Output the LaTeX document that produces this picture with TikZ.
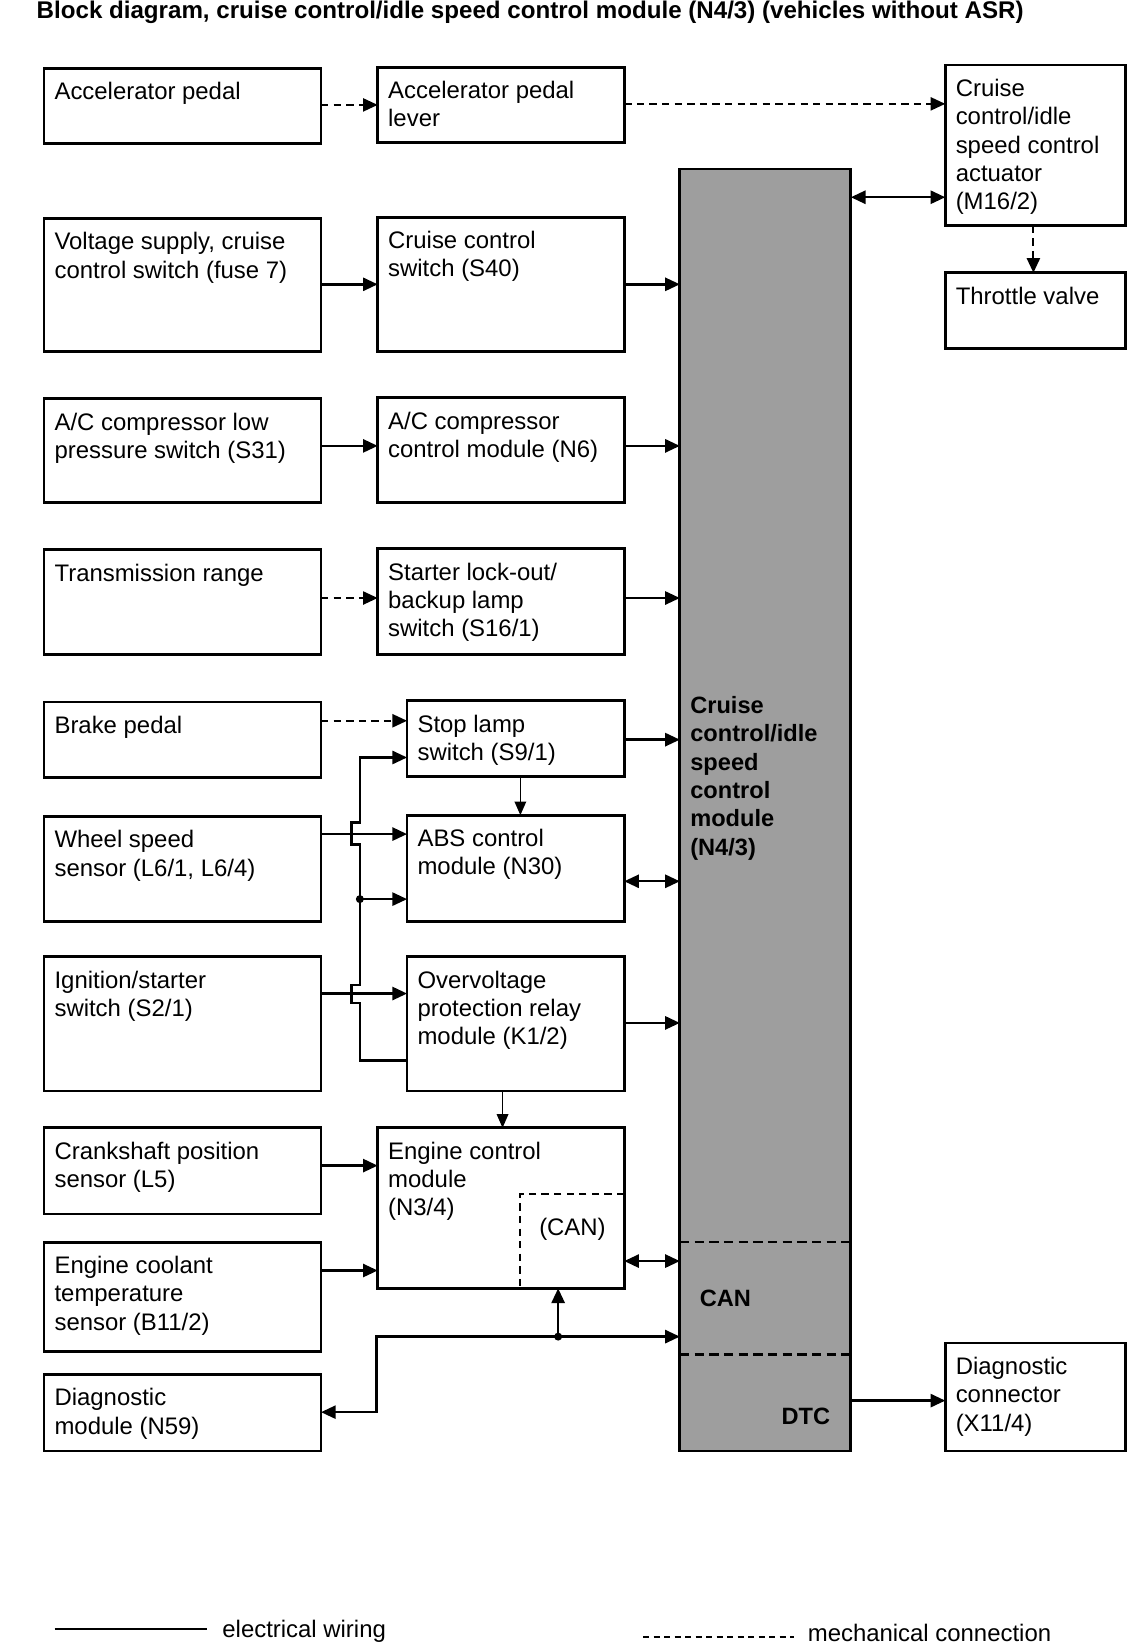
\documentclass[tikz,border=0pt]{standalone}
\usepackage{fontspec}
\setmainfont{Liberation Sans}
\usetikzlibrary{arrows.meta,calc}
\tikzset{
  box/.style={draw, line width=2.6pt, anchor=north west, inner sep=0pt, outer sep=0pt},
  lbl/.style={anchor=north west, inner sep=0pt, outer sep=0pt, align=left, font=\fontsize{22.8}{27}\selectfont},
  blbl/.style={lbl, font=\bfseries\fontsize{22.5}{27}\selectfont},
  tip/.tip={Triangle[length=14pt,width=12.5pt]},
  arr/.style={line width=2.3pt, -tip},
  both/.style={line width=2.3pt, tip-tip},
  thinarr/.style={line width=1.4pt, -{Triangle[length=13pt,width=11pt]}},
  mech/.style={line width=2pt, dash pattern=on 7pt off 5pt, -tip},
  dotj/.style={fill=black},
}
\newcommand\blk[6]{%
  \node[box, minimum width=#4pt, minimum height=#5pt] (#1) at (#2,#3) {};
  \node[lbl] (#1-t) at ($(#1.north west)+(10,11.1)$) {\strut #6};
}
\begin{document}
\begin{tikzpicture}[x=1pt,y=-1pt]
\useasboundingbox (0,0) rectangle (1083,1567);
\fill[white] (0,0) rectangle (1083,1567);

% title
\node[blbl, anchor=base west, font=\bfseries\fontsize{23}{27}\selectfont] (title) at (35,18) {Block diagram, cruise control/idle speed control module (N4/3) (vehicles without ASR)};

% left column
\blk{acc}{42}{65}{264}{72}{Accelerator pedal}
\blk{volt}{42}{208}{264}{127}{Voltage supply, cruise\\control switch (fuse 7)}
\blk{acl}{42}{380}{264}{99}{A/C compressor low\\pressure switch (S31)}
\blk{trans}{42}{524}{264}{100}{Transmission range}
\blk{brake}{42}{669}{264}{72}{Brake pedal}
\blk{wheel}{42}{778}{264}{100}{Wheel speed\\sensor (L6/1, L6/4)}
\blk{ign}{42}{912}{264}{128}{Ignition/starter\\switch (S2/1)}
\blk{crank}{42}{1075}{264}{82}{Crankshaft position\\sensor (L5)}
\blk{cool}{42}{1184}{264}{104}{Engine coolant\\temperature\\sensor (B11/2)}
\blk{diagm}{42}{1310}{264}{73}{Diagnostic\\module (N59)}

% middle column
\blk{lever}{360}{64}{235}{72}{Accelerator pedal\\lever}
\blk{ccs}{360}{207}{235}{128}{Cruise control\\switch (S40)}
\blk{acm}{360}{379}{235}{100}{A/C compressor\\control module (N6)}
\blk{slo}{360}{523}{235}{101}{Starter lock-out/\\backup lamp\\switch (S16/1)}
\blk{stop}{388}{668}{207}{72}{Stop lamp\\switch (S9/1)}
\blk{abs}{388}{777}{207}{101}{ABS control\\module (N30)}
\blk{ovp}{388}{912}{207}{128}{Overvoltage\\protection relay\\module (K1/2)}
\blk{ecm}{360}{1075}{235}{153}{Engine control\\module\\(N3/4)}
\draw[line width=1.8pt, dash pattern=on 7pt off 5pt] (ecm.east|-0,1138) -- (496,1138) -- (496,1228);
\node[lbl] (ecmcan) at (514,1159.1) {\strut (CAN)};

% central module
\node[box, fill=black!38, minimum width=163pt, minimum height=1222pt] (mod) at (648,161) {};
\draw[line width=2.2pt, dash pattern=on 9pt off 5pt] (mod.west|-0,1184) -- (mod.east|-0,1184);
\draw[line width=2.2pt, dash pattern=on 9pt off 5pt] (mod.west|-0,1291) -- (mod.east|-0,1291);
\node[blbl] (mod-t) at (658,661.1) {\strut Cruise\\control/idle\\speed\\control\\module\\(N4/3)};
\node[blbl] (mod-can) at (667,1226.1) {\strut CAN};
\node[blbl] (mod-dtc) at (745,1339.1) {\strut DTC};

% right column
\blk{act}{901}{62}{172}{153}{Cruise\\control/idle\\speed control\\actuator\\(M16/2)}
\blk{thr}{901}{260}{172}{72}{Throttle valve}
\blk{dconn}{901}{1280}{172}{103}{Diagnostic\\connector\\(X11/4)}

% connectors
\draw[mech] (acc.east|-0,100) -- (lever.west|-0,100);
\draw[mech] (lever.east|-0,99) -- (act.west|-0,99);
\draw[both] (mod.east|-0,188) -- (act.west|-0,188);
\draw[mech] (act.south-|985,0) -- (thr.north-|985,0);

\draw[arr] (volt.east|-0,271) -- (ccs.west|-0,271);
\draw[arr] (ccs.east|-0,271) -- (mod.west|-0,271);
\draw[arr] (acl.east|-0,425) -- (acm.west|-0,425);
\draw[arr] (acm.east|-0,425) -- (mod.west|-0,425);
\draw[mech] (trans.east|-0,570) -- (slo.west|-0,570);
\draw[arr] (slo.east|-0,570) -- (mod.west|-0,570);

\draw[mech] (brake.east|-0,687) -- (stop.west|-0,687);
\draw[arr] (stop.east|-0,705) -- (mod.west|-0,705);
\draw[thinarr] (stop.south-|496,0) -- (abs.north-|496,0);
\draw[arr] (wheel.east|-0,795) -- (abs.west|-0,795);
\draw[arr] (ovp.west|-0,1011) -- (343,1011) -- (343,956) -- (335,956) -- (335,939) -- (343,939)
   -- (343,805) -- (335,805) -- (335,784) -- (343,784) -- (343,722) -- (stop.west|-0,722);
\coordinate (j1) at (343,857);
\fill[dotj] (j1) circle (3.8pt);
\draw[arr] (j1) -- (abs.west|-j1);
\draw[arr] (ign.east|-0,947) -- (ovp.west|-0,947);
\draw[both] (abs.east|-0,840) -- (mod.west|-0,840);
\draw[arr] (ovp.east|-0,975) -- (mod.west|-0,975);
\draw[thinarr] (ovp.south-|479,0) -- (ecm.north-|479,0);

\draw[arr] (crank.east|-0,1111) -- (ecm.west|-0,1111);
\draw[arr] (cool.east|-0,1211) -- (ecm.west|-0,1211);
\draw[both] (ecm.east|-0,1202) -- (mod.west|-0,1202);
\draw[both] (diagm.east|-0,1346) -- (359,1346) -- (359,1274) -- (mod.west|-0,1274);
\coordinate (j2) at (532,1274);
\fill[dotj] (j2) circle (3.8pt);
\draw[arr] (j2) -- (ecm.south-|j2);
\draw[arr] (mod.east|-0,1335) -- (dconn.west|-0,1335);

% legend
\coordinate (le1) at (52,1553);
\coordinate (le2) at (197,1553);
\draw[line width=2.2pt] (le1) -- (le2);
\node[lbl, anchor=base west] (leg1) at (212,1561) {electrical wiring};
\coordinate (lm1) at (613,1560);
\coordinate (lm2) at (757,1560);
\draw[line width=2pt, dash pattern=on 6pt off 4pt] (lm1) -- (lm2);
\node[lbl, anchor=base west] (leg2) at (770,1565) {mechanical connection};
\end{tikzpicture}
\end{document}
